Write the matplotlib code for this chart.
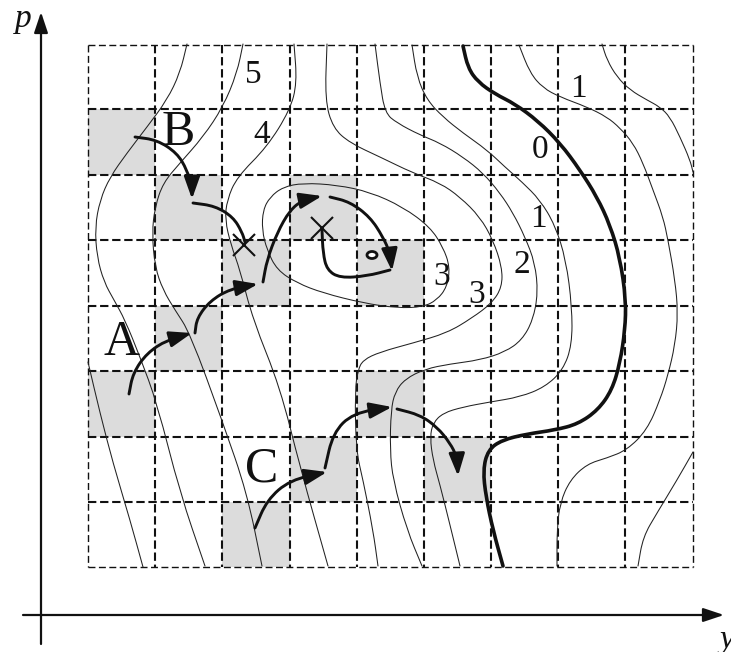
import numpy as np
import matplotlib
matplotlib.use("Agg")
import matplotlib.pyplot as plt
from matplotlib.path import Path
from matplotlib.patches import FancyArrowPatch, Rectangle, Ellipse

plt.rcParams['font.family'] = ['Liberation Serif', 'DejaVu Serif']

# grid of cells (drawing units, y grows downward)
col_edges = [88, 155, 222, 290, 357, 424, 491, 558, 625, 693]
row_edges = [45, 109, 175, 240, 306, 371, 437, 502, 567]
# shaded cells as (column, row from top)
shaded = [(0, 1), (1, 2), (3, 2), (2, 3), (4, 3), (1, 4), (0, 5), (4, 5),
          (3, 6), (5, 6), (2, 7)]

# level lines
line_0 = [(88, 362), (100, 413), (113, 463), (130, 520), (143, 567)]
line_1 = [(187, 44), (180, 73), (167, 100), (147, 127), (127, 153), (110, 177),
          (100, 200), (95, 227), (97, 257), (104, 282), (114, 300), (125, 320),
          (140, 357), (157, 403), (180, 493), (205, 566)]
line_2 = [(243, 44), (237, 73), (223, 107), (203, 137), (180, 163), (163, 183),
          (155, 207), (152, 233), (155, 267), (163, 290), (175, 310), (190, 333),
          (223, 423), (247, 493), (262, 566)]
line_3 = [(294, 44), (297, 83), (290, 110), (267, 147), (237, 177), (227, 200),
          (225, 220), (231, 245), (240, 270), (253, 320), (280, 387), (300, 467),
          (328, 566)]
line_4 = [(327, 44), (325, 100), (333, 128), (350, 143), (380, 157), (413, 173),
          (440, 183), (460, 197), (480, 217), (493, 240), (502, 267), (502, 287),
          (492, 303), (472, 318), (447, 333), (413, 343), (380, 352), (363, 360),
          (358, 370), (355, 390), (356, 450), (363, 480), (373, 530), (378, 566)]
line_5 = [(375, 44), (380, 83), (385, 113), (397, 123), (420, 135), (440, 143),
          (463, 157), (483, 173), (500, 193), (513, 213), (525, 237), (535, 263),
          (538, 293), (533, 320), (522, 340), (505, 352), (480, 360), (450, 364),
          (425, 369), (405, 379), (395, 392), (391, 410), (390, 450), (393, 480),
          (407, 530), (422, 566)]
line_6 = [(412, 45), (417, 77), (427, 100), (443, 117), (463, 133), (487, 150),
          (505, 167), (522, 182), (540, 200), (555, 225), (566, 260), (572, 307),
          (572, 345), (563, 370), (545, 387), (520, 397), (490, 402), (463, 407),
          (443, 413), (433, 423), (430, 437), (433, 460), (440, 485), (450, 525),
          (460, 566)]
line_zero = [(463, 46), (468, 68), (478, 82), (495, 94), (515, 104), (538, 121),
             (560, 143), (580, 170), (597, 197), (610, 225), (620, 258), (626, 300),
             (625, 330), (620, 363), (612, 390), (598, 410), (578, 424), (555, 430),
             (527, 434), (502, 440), (488, 450), (483, 470), (486, 497), (493, 530),
             (503, 566)]
line_8 = [(519, 45), (530, 73), (543, 88), (560, 97), (587, 107), (607, 117),
          (620, 128), (633, 143), (643, 163), (653, 190), (663, 217), (668, 240),
          (675, 280), (678, 313), (675, 345), (668, 375), (660, 400), (647, 430),
          (627, 450), (607, 458), (587, 464), (570, 480), (560, 503), (557, 530),
          (557, 566)]
line_9a = [(602, 44), (607, 60), (617, 77), (630, 90), (647, 100), (660, 107),
           (670, 117), (680, 137), (690, 160), (693, 172)]
line_9b = [(693, 452), (677, 480), (657, 513), (643, 537), (638, 566)]
loop_3 = [(263, 210), (270, 197), (283, 187), (303, 183), (337, 185), (370, 192),
          (403, 207), (430, 227), (443, 247), (450, 267), (447, 287), (437, 300),
          (423, 307), (397, 308), (363, 303), (323, 293), (297, 283), (277, 270),
          (267, 250), (262, 230)]

thin_lines = [line_0, line_1, line_2, line_3, line_4, line_5, line_6,
              line_8, line_9a, line_9b]

# search trajectories: (points, arrow head at end)
paths_B = [([(135, 137), (157, 140), (177, 153), (187, 170), (192, 187), (192, 199)], True),
           ([(193, 203), (215, 206), (233, 217), (242, 232), (245, 242)], False)]
paths_A = [([(129, 394), (133, 373), (147, 353), (167, 340), (192, 333)], True),
           ([(195, 333), (197, 318), (210, 301), (230, 289), (258, 284)], True),
           ([(263, 282), (267, 260), (277, 233), (290, 210), (303, 200), (322, 196)], True),
           ([(330, 197), (350, 202), (370, 217), (383, 237), (390, 253), (392, 271)], True),
           ([(390, 270), (367, 276), (340, 278), (327, 270), (323, 253), (322, 230)], False)]
paths_C = [([(255, 528), (267, 500), (290, 480), (327, 472)], True),
           ([(325, 468), (333, 433), (353, 413), (392, 407)], True),
           ([(397, 409), (420, 415), (437, 427), (450, 443), (457, 457), (458, 476)], True)]

stops_x = [(244, 245), (322, 228)]
stop_o = (372, 255)

level_labels = [("5", 253, 83), ("4", 262, 143), ("0", 540, 158), ("1", 578, 97),
                ("1", 538, 227), ("2", 522, 273), ("3", 442, 285), ("3", 477, 303)]
start_labels = [("B", 178, 145), ("A", 122, 355), ("C", 262, 481)]


def smooth(pts, closed=False):
    pts = np.asarray(pts, float)
    if closed:
        mids = (pts + np.roll(pts, -1, axis=0)) / 2
        verts = [mids[-1]]
        codes = [Path.MOVETO]
        for p, m in zip(pts, mids):
            verts += [p, m]
            codes += [Path.CURVE3, Path.CURVE3]
        return Path(verts, codes)
    mids = (pts[:-1] + pts[1:]) / 2
    verts = [pts[0], mids[0]]
    codes = [Path.MOVETO, Path.LINETO]
    for i in range(1, len(pts) - 1):
        verts += [pts[i], mids[i]]
        codes += [Path.CURVE3, Path.CURVE3]
    verts.append(pts[-1])
    codes.append(Path.LINETO)
    return Path(verts, codes)


fig = plt.figure(figsize=(7.31, 6.52), dpi=100)
ax = fig.add_axes([0, 0, 1, 1])
ax.set_xlim(0, 731)
ax.set_ylim(652, 0)
ax.axis('off')

for c, r in shaded:
    ax.add_patch(Rectangle((col_edges[c], row_edges[r]),
                           col_edges[c + 1] - col_edges[c],
                           row_edges[r + 1] - row_edges[r],
                           facecolor='#dcdcdc', edgecolor='none', zorder=1))

x0, x1 = col_edges[0], col_edges[-1]
y0, y1 = row_edges[0], row_edges[-1]
ax.hlines(row_edges[1:-1], x0, x1, colors='#111', linewidth=1.5,
          linestyles=(0, (4, 1.8)), zorder=2)
ax.vlines(col_edges[1:-1], y0, y1, colors='#111', linewidth=1.5,
          linestyles=(0, (4, 1.8)), zorder=2)
ax.hlines([y0, y1], x0, x1, colors='#111', linewidth=1.0,
          linestyles=(0, (5, 2.5)), zorder=2)
ax.vlines([x0, x1], y0, y1, colors='#111', linewidth=1.0,
          linestyles=(0, (5, 2.5)), zorder=2)

for ln in thin_lines:
    ax.add_patch(FancyArrowPatch(path=smooth(ln), arrowstyle='-', lw=0.75,
                                 color='#222', zorder=3))
ax.add_patch(FancyArrowPatch(path=smooth(loop_3, closed=True), arrowstyle='-',
                             lw=0.75, color='#222', zorder=3))
ax.add_patch(FancyArrowPatch(path=smooth(line_zero), arrowstyle='-', lw=2.6,
                             color='#111', zorder=3))

for pts, head in paths_A + paths_B + paths_C:
    style = '-|>,head_length=0.9,head_width=0.32' if head else '-'
    ax.add_patch(FancyArrowPatch(path=smooth(pts), arrowstyle=style,
                                 mutation_scale=15, lw=2.1, color='#111',
                                 zorder=4))

for sx, sy in stops_x:
    ax.plot(sx, sy, marker='x', ms=16, mew=1.5, color='#111', zorder=5)
ax.add_patch(Ellipse(stop_o, 10, 7, facecolor='white', edgecolor='#111',
                     lw=2, zorder=5))

for s, x, y in level_labels:
    ax.text(x, y, s, fontsize=24, ha='center', va='baseline', color='#111',
            zorder=6)
for s, x, y in start_labels:
    ax.text(x, y, s, fontsize=36, ha='center', va='baseline', color='#111',
            zorder=6)

# coordinate axes
ax.add_patch(FancyArrowPatch((41, 644), (41, 12),
                             arrowstyle='-|>,head_length=0.9,head_width=0.3',
                             mutation_scale=14, lw=1.6, color='#111',
                             shrinkA=0, shrinkB=0))
ax.add_patch(FancyArrowPatch((23, 615), (724, 615),
                             arrowstyle='-|>,head_length=0.9,head_width=0.3',
                             mutation_scale=14, lw=1.6, color='#111',
                             shrinkA=0, shrinkB=0))
ax.text(23, 27, 'p', fontsize=24, style='italic', ha='center', va='baseline',
        color='#111')
ax.text(720, 648, 'y', fontsize=24, style='italic', ha='left', va='baseline',
        color='#111')

fig.savefig('out.png', dpi=100)
